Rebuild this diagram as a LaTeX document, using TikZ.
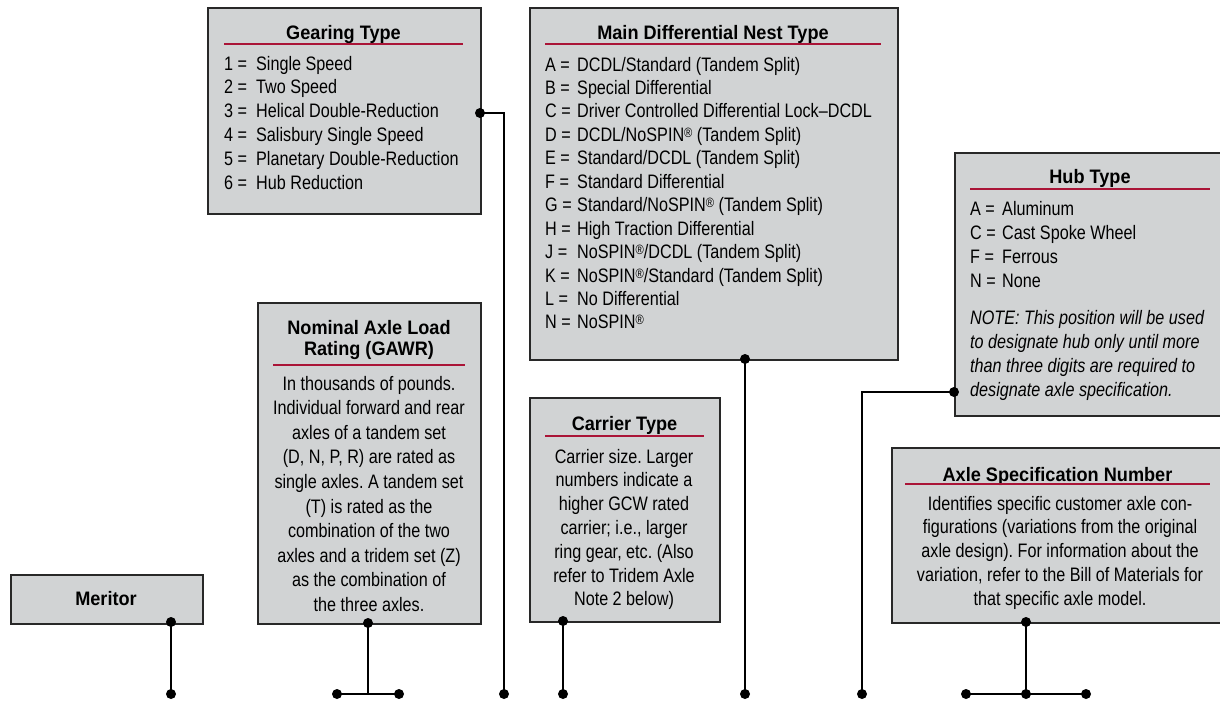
\documentclass[tikz,border=0pt]{standalone}
\usepackage{fontspec}
\setmainfont{Liberation Sans}[FakeStretch=0.83]
\newfontfamily\titlefont{Liberation Sans}[FakeStretch=0.93]
\definecolor{boxfill}{RGB}{209,211,212}
\definecolor{boxedge}{RGB}{40,40,40}
\definecolor{rulered}{RGB}{170,20,55}
\newcommand\regd{\raisebox{4pt}{\fontsize{13.5}{13.5}\selectfont ®}}
\newcommand\lbl[1]{\makebox[32pt][l]{#1 =}}
\frenchspacing
\begin{document}
\begin{tikzpicture}[x=1pt,y=-1pt,
  box/.style={draw=boxedge, fill=boxfill, line width=1.8pt, inner sep=0pt, anchor=north west},
  ttl/.style={font=\titlefont\bfseries\fontsize{19.5}{22}\selectfont, anchor=base, inner sep=0pt},
  bodyl/.style={font=\fontsize{19.5}{24}\selectfont, anchor=base west, inner sep=0pt},
  bodyc/.style={font=\fontsize{19.5}{24}\selectfont, anchor=base, inner sep=0pt},
  redrule/.style={draw=rulered, line width=1.3pt},
  conn/.style={draw=black, line width=2.6pt},
  dot/.style={circle, fill=black, inner sep=0pt, minimum size=10pt}]
\useasboundingbox (0,0) rectangle (1220,702);
\clip (0,0) rectangle (1220,702);

% ---------- boxes ----------
\node[box, minimum width=192pt, minimum height=49pt] (mer) at (10,574) {};
\node[box, minimum width=273pt, minimum height=206pt] (gear) at (207,7) {};
\node[box, minimum width=223pt, minimum height=321pt] (gawr) at (257,302) {};
\node[box, minimum width=368pt, minimum height=352pt] (mdiff) at (529,7) {};
\node[box, minimum width=190pt, minimum height=224pt] (carr) at (529,397) {};
\node[box, minimum width=272pt, minimum height=263pt] (hub) at (954,152) {};
\node[box, minimum width=335pt, minimum height=175pt] (spec) at (891,447) {};

% ---------- Meritor ----------
\node[ttl] (merT) at (106,605) {Meritor};

% ---------- Gearing Type ----------
\node[ttl] (gearT) at (343.5,39) {Gearing Type};
\draw[redrule] (224,44) -- (463,44);
\foreach \t [count=\i from 0] in {{\lbl{1}Single Speed},{\lbl{2}Two Speed},{\lbl{3}Helical Double-Reduction},{\lbl{4}Salisbury Single Speed},{\lbl{5}Planetary Double-Reduction},{\lbl{6}Hub Reduction}}
  \node[bodyl] (gl\i) at (224,70+23.9*\i) {\t};

% ---------- Main Differential Nest Type ----------
\node[ttl] (mdT) at (713,39) {Main Differential Nest Type};
\draw[redrule] (545,44) -- (881,44);
\foreach \t [count=\i from 0] in {
  {\lbl{A}DCDL/Standard (Tandem Split)},
  {\lbl{B}Special Differential},
  {\lbl{C}Driver Controlled Differential Lock–DCDL},
  {\lbl{D}DCDL/NoSPIN\regd{} (Tandem Split)},
  {\lbl{E}Standard/DCDL (Tandem Split)},
  {\lbl{F}Standard Differential},
  {\lbl{G}Standard/NoSPIN\regd{} (Tandem Split)},
  {\lbl{H}High Traction Differential},
  {\lbl{J}NoSPIN\regd/DCDL (Tandem Split)},
  {\lbl{K}NoSPIN\regd/Standard (Tandem Split)},
  {\lbl{L}No Differential},
  {\lbl{N}NoSPIN\regd}}
  \node[bodyl] (ml\i) at (545,71+23.45*\i) {\t};

% ---------- Hub Type ----------
\node[ttl] (hubT) at (1090,183) {Hub Type};
\draw[redrule] (970,189) -- (1210,189);
\foreach \t [count=\i from 0] in {{\lbl{A}Aluminum},{\lbl{C}Cast Spoke Wheel},{\lbl{F}Ferrous},{\lbl{N}None}}
  \node[bodyl] (hl\i) at (970,215+24.2*\i) {\t};
\foreach \t [count=\i from 0] in {{NOTE: This position will be used},{to designate hub only until more},{than three digits are required to},{designate axle specification.}}
  \node[bodyl, font=\fontsize{19.5}{24}\selectfont\itshape] (hn\i) at (970,324+24.3*\i) {\t};

% ---------- Nominal Axle Load Rating ----------
\node[ttl] (gawrT1) at (369,334) {Nominal Axle Load};
\node[ttl] (gawrT2) at (369,355.5) {Rating (GAWR)};
\draw[redrule] (273,365) -- (465,365);
\foreach \t [count=\i from 0] in {{In thousands of pounds.},{Individual forward and rear},{axles of a tandem set},{(D, N, P, R) are rated as},{single axles. A tandem set},{(T) is rated as the},{combination of the two},{axles and a tridem set (Z)},{as the combination of},{the three axles.}}
  \node[bodyc] (wl\i) at (369,390+24.6*\i) {\t};

% ---------- Carrier Type ----------
\node[ttl] (carrT) at (624.5,430) {Carrier Type};
\draw[redrule] (545,436) -- (704,436);
\foreach \t [count=\i from 0] in {{Carrier size. Larger},{numbers indicate a},{higher GCW rated},{carrier; i.e., larger},{ring gear, etc. (Also},{refer to Tridem Axle},{Note 2 below)}}
  \node[bodyc] (cl\i) at (624,463+23.8*\i) {\t};

% ---------- Axle Specification Number ----------
\node[ttl] (specT) at (1057.5,481) {Axle Specification Number};
\draw[redrule] (905,484) -- (1210,484);
\foreach \t [count=\i from 0] in {{Identifies specific customer axle con-},{figurations (variations from the original},{axle design). For information about the},{variation, refer to the Bill of Materials for},{that specific axle model.}}
  \node[bodyc] (sl\i) at (1060,510+23.8*\i) {\t};

% ---------- connector dots ----------
\node[dot] (merTop) at (171,622) {};
\node[dot] (merBot) at (171,694) {};
\node[dot] (gawrTop) at (368,623) {};
\coordinate (gawrMid) at (368,694);
\node[dot] (gawrL) at (337,694) {};
\node[dot] (gawrR) at (399,694) {};
\node[dot] (gearTop) at (480,113) {};
\node[dot] (gearBot) at (504,694) {};
\node[dot] (carrTop) at (563,621) {};
\node[dot] (carrBot) at (563,694) {};
\node[dot] (mdTop) at (745,359) {};
\node[dot] (mdBot) at (745,694) {};
\node[dot] (hubTop) at (954,392) {};
\node[dot] (hubBot) at (862,694) {};
\node[dot] (specTop) at (1026,622) {};
\node[dot] (specMid) at (1026,694) {};
\node[dot] (specL) at (966,694) {};
\node[dot] (specR) at (1086,694) {};

% ---------- connectors ----------
\draw[conn] (merTop.center) -- (merBot.center);
\draw[conn] (gawrTop.center) -- (gawrMid);
\draw[conn] (gawrL.center) -- (gawrR.center);
\draw[conn] (gearTop.center) -| (gearBot.center);
\draw[conn] (carrTop.center) -- (carrBot.center);
\draw[conn] (mdTop.center) -- (mdBot.center);
\draw[conn] (hubTop.center) -| (hubBot.center);
\draw[conn] (specTop.center) -- (specMid.center);
\draw[conn] (specL.center) -- (specR.center);
\end{tikzpicture}
\end{document}
